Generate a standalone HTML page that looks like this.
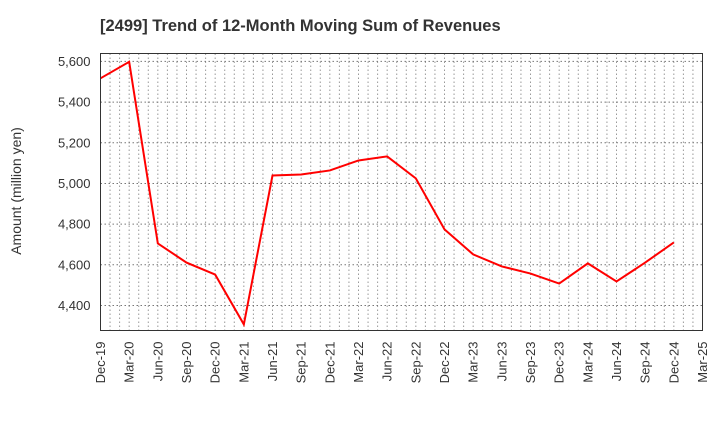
<!DOCTYPE html>
<html><head><meta charset="utf-8"><style>
body{margin:0;background:#fff;font-family:"Liberation Sans",sans-serif}
</style></head><body>
<svg width="720" height="440" xmlns="http://www.w3.org/2000/svg">
<text x="100" y="31" font-size="16.5" font-weight="bold" fill="#333">[2499]  Trend of 12-Month Moving Sum of Revenues</text>
<text transform="translate(21,191) rotate(-90)" text-anchor="middle" font-size="14" fill="#333">Amount (million yen)</text>
<g id="grid"></g>
<g id="yticks"></g>
<g id="xticks"></g>
<path id="line" fill="none" stroke="#f00" stroke-width="2"/>
<rect x="100.5" y="53.5" width="602" height="277" fill="none" stroke="#333" stroke-width="1"/>
</svg>
<script>
const categories=["Dec-19","Mar-20","Jun-20","Sep-20","Dec-20","Mar-21","Jun-21","Sep-21","Dec-21","Mar-22","Jun-22","Sep-22","Dec-22","Mar-23","Jun-23","Sep-23","Dec-23","Mar-24","Jun-24","Sep-24","Dec-24","Mar-25"];
const values=[5517,5598,4705,4611,4552,4307,5039,5044,5064,5113,5133,5025,4774,4651,4592,4557,4508,4607,4518,4611,4710];
const yTicks=[4400,4600,4800,5000,5200,5400,5600];
const L=100.5,R=702.5,T=53.5,B=330.5,yMin=4277,yMax=5639;
const NS="http://www.w3.org/2000/svg";
const xs=i=>L+(R-L)*i/(categories.length-1);
const ys=v=>B-(v-yMin)/(yMax-yMin)*(B-T);
const grid=document.getElementById('grid'),yt=document.getElementById('yticks'),xt=document.getElementById('xticks');
function mk(tag,a,p){const e=document.createElementNS(NS,tag);for(const k in a)e.setAttribute(k,a[k]);p.appendChild(e);return e;}
const months=(categories.length-1)*3;
for(let m=1;m<months;m++){const x=L+(R-L)*m/months;
const g=mk('line',{x1:x,x2:x,y1:T,y2:B,stroke:'#999','stroke-dasharray':'1.5,2.5'},grid);

}
yTicks.forEach(v=>{const y=ys(v);
const g=mk('line',{x1:L,x2:R,y1:y,y2:y,stroke:'#777','stroke-dasharray':'1.5,2.5'},grid);


const t=mk('text',{x:L-10,y:y+4.5,'text-anchor':'end','font-size':'13',fill:'#333'},yt);
t.textContent=v.toLocaleString('en-US');

});
categories.forEach((c,i)=>{const x=xs(i);
const t=mk('text',{transform:`translate(${x+4.5},${B+11}) rotate(-90)`,'text-anchor':'end','font-size':'13',fill:'#333'},xt);
t.textContent=c;

});
document.getElementById('line').setAttribute('d',values.map((v,i)=>(i?'L':'M')+xs(i)+','+ys(v)).join(''));
</script>
</body></html>
